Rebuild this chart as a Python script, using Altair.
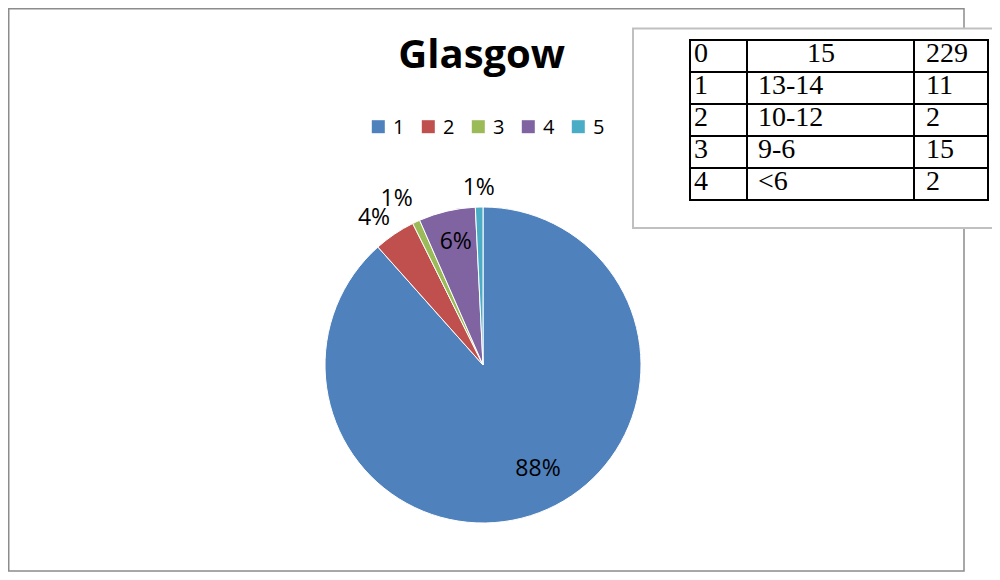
import altair as alt
import pandas as pd

# ---------------- data ----------------
categories = ["1", "2", "3", "4", "5"]
counts = [229, 11, 2, 15, 2]
colors = ["#4F81BD", "#C0504D", "#9BBB59", "#8064A2", "#4BACC6"]

table_rows = [0, 1, 2, 3, 4]
table_col1 = ["0", "1", "2", "3", "4"]
table_col2 = ["15", "13-14", "10-12", "9-6", "<6"]
table_col3 = ["229", "11", "2", "15", "2"]

title_text = "Glasgow"

# ---------------- layout ----------------
W, H = 984, 564
CX, CY, R = 475, 357, 158

pie_df = pd.DataFrame({"cat": categories, "value": counts})
table_df = pd.DataFrame({"row": table_rows, "c1": table_col1, "c2": table_col2, "c3": table_col3})
one = pd.DataFrame({"t": [title_text]})

color_scale = alt.Scale(domain=categories, range=colors)

frame = alt.Chart(one).mark_rect(fill="white", stroke="#8C8C8C", strokeWidth=1.5).encode(
    x=alt.value(0.75), x2=alt.value(956), y=alt.value(0.75), y2=alt.value(563)
)
box = alt.Chart(one).mark_rect(fill="white", stroke="#C0C0C0", strokeWidth=2).encode(
    x=alt.value(625), x2=alt.value(1000), y=alt.value(20.5), y2=alt.value(220)
)

yrow = alt.Y("row:O", scale=alt.Scale(range=[32, 192], paddingInner=0, paddingOuter=0), axis=None)

tbase = alt.Chart(table_df)


def cell_rect(x0, x1):
    return tbase.mark_rect(fillOpacity=0, stroke="black", strokeWidth=2).encode(
        x=alt.value(x0), x2=alt.value(x1), y=yrow
    )


def cell_text(xpos, field, align="left", cond=None):
    txt = f"{field}:N" if cond is None else alt.condition(cond, f"{field}:N", alt.value(""))
    return tbase.mark_text(
        font="Liberation Serif", fontSize=28, color="black", align=align,
        baseline="alphabetic", dy=5.5
    ).encode(x=alt.value(xpos), y=yrow, text=txt)


table_layers = [
    cell_rect(682, 739), cell_rect(739, 906), cell_rect(906, 980),
    cell_text(686, "c1"),
    cell_text(750, "c2", cond="datum.row != 0"),
    cell_text(813, "c2", align="center", cond="datum.row == 0"),
    cell_text(918, "c3"),
]

base = alt.Chart(pie_df).transform_joinaggregate(
    total="sum(value)"
).transform_calculate(
    pct="format(datum.value / datum.total, '.0%')"
).encode(
    theta=alt.Theta("value:Q", stack=True),
    order=alt.Order("cat:N"),
)

arcs = base.mark_arc(outerRadius=R, stroke="white", strokeWidth=1).encode(
    x=alt.value(CX), y=alt.value(CY),
    color=alt.Color("cat:N", scale=color_scale, legend=None),
)


def label(cat, radius, dx=0, dy=0):
    return base.mark_text(
        radius=radius, dx=dx, dy=dy, font="Open Sans", fontSize=23,
        color="black", baseline="middle", align="center"
    ).encode(
        x=alt.value(CX), y=alt.value(CY),
        text=alt.condition(f"datum.cat == '{cat}'", "pct:N", alt.value("")),
    )


labels = [
    label("1", 118, 13, -6),
    label("2", 184, -6, 5),
    label("3", 184, -8.5, 1),
    label("4", 126, 1.5, 0),
    label("5", 177, 0, 0),
]

# legend (drawn from the category list through a point scale)
leg_x = alt.X("cat:N", scale=alt.Scale(type="point", domain=categories, range=[370.3, 570.3], padding=0), axis=None)
leg_base = alt.Chart(pie_df)
leg_sym = leg_base.mark_square(size=169, opacity=1, strokeWidth=0).encode(
    x=leg_x, y=alt.value(118.7), color=alt.Color("cat:N", scale=color_scale, legend=None)
)
leg_txt = leg_base.mark_text(
    font="Open Sans", fontSize=20, color="black", align="left", baseline="alphabetic", dx=14.7
).encode(x=leg_x, y=alt.value(125.5), text="cat:N")

title = alt.Chart(one).mark_text(
    font="Open Sans", fontWeight="bold", fontSize=40, color="black",
    align="center", baseline="alphabetic"
).encode(x=alt.value(473.7), y=alt.value(60.3), text="t:N")

chart = alt.layer(
    frame, box, *table_layers, arcs, *labels, leg_sym, leg_txt, title
).properties(
    width=W, height=H, padding=0, autosize="none"
).configure_view(stroke=None)

chart.save("out.html", embed_options={"renderer": "svg", "actions": False})
